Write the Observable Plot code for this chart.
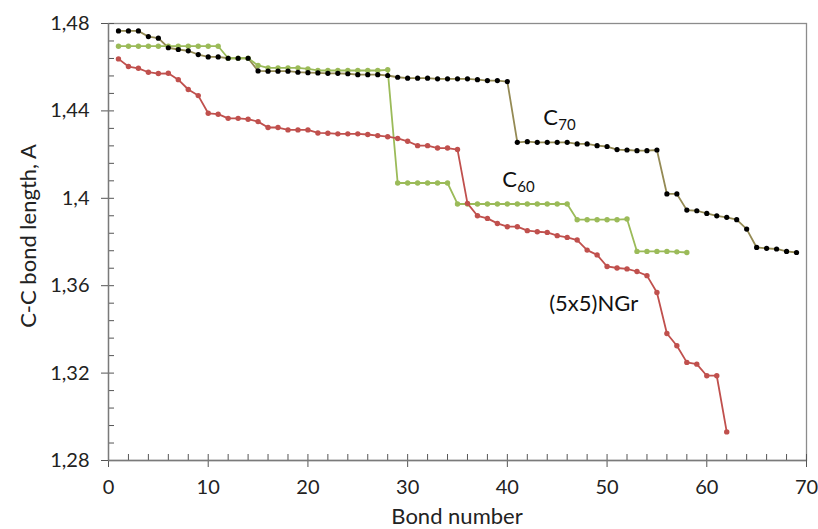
<!DOCTYPE html>
<html>
<head>
<meta charset="utf-8">
<script src="https://cdn.jsdelivr.net/npm/d3@7"></script>
<script src="https://cdn.jsdelivr.net/npm/@observablehq/plot@0.6"></script>
<style>
  html, body { margin: 0; padding: 0; background: #fff; }
  #chart { width: 818px; height: 529px; }
</style>
</head>
<body>
<div id="chart"></div>
<script>
// C-C bond lengths (Å) by bond number
const c70 = [1.4766,1.4766,1.4766,1.4740,1.4733,1.4689,1.4681,1.4675,1.4658,1.4647,
  1.4647,1.4641,1.4641,1.4641,1.4583,1.4582,1.4582,1.4582,1.4577,1.4575,
  1.4574,1.4572,1.4572,1.4570,1.4566,1.4566,1.4566,1.4562,1.4554,1.4550,
  1.4550,1.4550,1.4547,1.4547,1.4547,1.4547,1.4543,1.4539,1.4539,1.4534,
  1.4256,1.4259,1.4256,1.4256,1.4256,1.4256,1.4249,1.4249,1.4241,1.4237,
  1.4223,1.4221,1.4218,1.4218,1.4221,1.4020,1.4020,1.3946,1.3943,1.3931,
  1.3920,1.3913,1.3902,1.3859,1.3775,1.3771,1.3768,1.3757,1.3752];
const c60 = [1.4696,1.4696,1.4696,1.4696,1.4696,1.4696,1.4696,1.4696,1.4696,1.4696,
  1.4696,1.4641,1.4641,1.4641,1.4608,1.4597,1.4597,1.4597,1.4597,1.4592,
  1.4585,1.4585,1.4585,1.4585,1.4585,1.4585,1.4585,1.4588,1.4070,1.4070,
  1.4070,1.4070,1.4070,1.4070,1.3974,1.3974,1.3974,1.3974,1.3974,1.3974,
  1.3974,1.3974,1.3974,1.3974,1.3974,1.3974,1.3902,1.3902,1.3902,1.3902,
  1.3902,1.3905,1.3757,1.3757,1.3757,1.3757,1.3755,1.3752];
const ngr = [1.4638,1.4603,1.4595,1.4577,1.4571,1.4572,1.4543,1.4498,1.4470,1.4389,
  1.4385,1.4366,1.4366,1.4362,1.4351,1.4324,1.4324,1.4313,1.4313,1.4313,
  1.4299,1.4298,1.4295,1.4295,1.4295,1.4292,1.4287,1.4282,1.4274,1.4261,
  1.4241,1.4241,1.4230,1.4230,1.4223,1.3977,1.3920,1.3908,1.3885,1.3870,
  1.3870,1.3852,1.3847,1.3844,1.3829,1.3821,1.3809,1.3763,1.3741,1.3688,
  1.3681,1.3677,1.3665,1.3646,1.3569,1.3381,1.3325,1.3249,1.3241,1.3188,
  1.3188,1.2931];

const xTicks = [0, 10, 20, 30, 40, 50, 60, 70];
const xMinor = d3.range(0, 70.001, 2);
const yTicks = [1.28, 1.32, 1.36, 1.40, 1.44, 1.48];
const yMinor = d3.range(0, 26).map(i => +(1.28 + i * 0.008).toFixed(3));

// Series labels: [main, subscript, x, y]
const labels = [
  {main: "C", sub: "70", x: 43.6, y: 1.4367},
  {main: "C", sub: "60", x: 39.5, y: 1.4083},
  {main: "(5x5)NGr", sub: "", x: 44.2, y: 1.3518}
];

const toRows = arr => arr.map((v, i) => ({n: i + 1, v}));
const rowsC70 = toRows(c70), rowsC60 = toRows(c60), rowsNGr = toRows(ngr);

const fmt = d => String(+d.toFixed(2)).replace(".", ",");
const FONT = "Lato, 'Open Sans', sans-serif";

const chart = Plot.plot({
  width: 818,
  height: 529,
  marginLeft: 108,
  marginRight: 12,
  marginTop: 23,
  marginBottom: 69,
  style: {fontFamily: FONT, fontSize: "20px", color: "#222", background: "#fff"},
  x: {domain: [0, 70]},
  y: {domain: [1.28, 1.48]},
  marks: [
    Plot.frame({stroke: "#8c8c8c", strokeWidth: 1.3}),
    // minor + major ticks inside
    Plot.axisY({ticks: yMinor, tickSize: 6, dx: 6, text: null, stroke: "#555", label: null}),
    Plot.axisX({ticks: xMinor, tickSize: 6, dy: -6, text: null, stroke: "#555", label: null}),
    // major ticks outside with labels
    Plot.axisY({ticks: yTicks, tickSize: 7, tickPadding: 12, tickFormat: fmt, stroke: "#555",
      fontSize: 20, fill: "#222", label: null}),
    Plot.axisX({ticks: xTicks, tickSize: 7, tickPadding: 12, tickFormat: d => String(d), stroke: "#555",
      fontSize: 20, fill: "#222", label: null}),
    Plot.ruleX([0], {stroke: "#7a7a7a", strokeWidth: 1.3}),
    Plot.ruleY([1.28], {stroke: "#7a7a7a", strokeWidth: 1.3}),
    // series
    Plot.line(rowsC70, {x: "n", y: "v", stroke: "#948a54", strokeWidth: 1.8}),
    Plot.line(rowsC60, {x: "n", y: "v", stroke: "#9bbb59", strokeWidth: 1.8}),
    Plot.dot(rowsC60, {x: "n", y: "v", r: 2.7, fill: "#9bbb59", stroke: "none"}),
    Plot.line(rowsNGr, {x: "n", y: "v", stroke: "#c0504d", strokeWidth: 1.8}),
    Plot.dot(rowsNGr, {x: "n", y: "v", r: 2.7, fill: "#c0504d", stroke: "none"}),
    Plot.dot(rowsC70, {x: "n", y: "v", r: 2.6, fill: "#000", stroke: "none"}),
    // labels
    Plot.text(labels, {x: "x", y: "y", text: "main", textAnchor: "start", fontSize: 22, fill: "#111"}),
    Plot.text(labels, {x: "x", y: "y", text: "sub", textAnchor: "start", fontSize: 15, dx: 15, dy: 7, fill: "#111"})
  ]
});

// Axis titles added to the SVG
const svg = d3.select(chart);
svg.append("text")
  .attr("transform", "translate(30,236) rotate(-90)")
  .attr("text-anchor", "middle")
  .attr("dominant-baseline", "middle")
  .style("font-family", FONT).style("font-size", "22px").attr("fill", "#222")
  .text("C-C bond length, A");
svg.append("text")
  .attr("x", 457).attr("y", 518)
  .attr("text-anchor", "middle")
  .attr("dominant-baseline", "middle")
  .style("font-family", FONT).style("font-size", "22px").attr("fill", "#222")
  .text("Bond number");

document.getElementById("chart").appendChild(chart);
</script>
</body>
</html>
